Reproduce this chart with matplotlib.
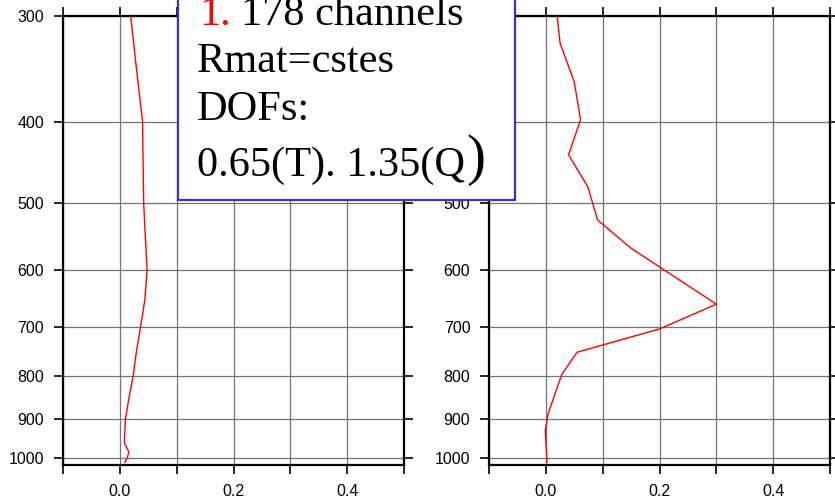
import matplotlib
matplotlib.use('Agg')
import matplotlib.pyplot as plt
from matplotlib.patches import Rectangle
from matplotlib.ticker import NullLocator

plt.rcParams['font.family'] = ['Liberation Sans', 'DejaVu Sans']

# averaging kernel profiles (pressure in hPa)
p_left = [300, 350, 400, 450, 500, 550, 600, 650, 700, 750, 800, 850, 900, 950, 960, 985, 1000, 1013]
v_left = [0.019, 0.030, 0.040, 0.041, 0.042, 0.045, 0.048, 0.044, 0.0365, 0.029, 0.0235, 0.016, 0.010, 0.008, 0.008, 0.016, 0.013, 0.009]

p_right = [300, 323, 359, 398, 438, 478, 523, 565, 658, 704, 750, 797, 887, 929, 981, 1013]
v_right = [0.020, 0.025, 0.050, 0.061, 0.040, 0.074, 0.091, 0.150, 0.300, 0.200, 0.055, 0.028, 0.004, -0.001, 0.001, 0.002]

p_ticks = [300, 400, 500, 600, 700, 800, 900, 1000]
x_ticks = [-0.1, 0.0, 0.1, 0.2, 0.3, 0.4, 0.5]
x_labels = ['', '0.0', '', '0.2', '', '0.4', '']

W, H = 835, 497
fig = plt.figure(figsize=(W / 100, H / 100), dpi=100)


def px_axes(x0, y0, x1, y1):
    return fig.add_axes([x0 / W, 1 - y1 / H, (x1 - x0) / W, (y1 - y0) / H])


ax_l = px_axes(63, 16, 404, 465)
ax_r = px_axes(489, 16, 830, 465)

for ax, p, v in [(ax_l, p_left, v_left), (ax_r, p_right, v_right)]:
    ax.set_yscale('log')
    ax.set_ylim(1020, 300)
    ax.set_xlim(-0.1, 0.5)
    ax.set_yticks(p_ticks, labels=[str(t) for t in p_ticks])
    ax.yaxis.set_minor_locator(NullLocator())
    ax.set_xticks(x_ticks, labels=x_labels)
    ax.tick_params(direction='out', top=True, right=True, length=6.5,
                   width=1.2, labelsize=11.5, color='k')
    ax.tick_params(axis='y', pad=7)
    ax.tick_params(axis='x', pad=7)
    ax.grid(color='0.45', lw=0.9)
    ax.set_axisbelow(True)
    for s in ax.spines.values():
        s.set_linewidth(1.6)
    ax.plot(v, p, color='red', lw=1.0, zorder=3)

# annotation box over the top of both panels
box = Rectangle((178 / W, 1 - 200 / H), (515 - 178) / W, 210 / H,
                transform=fig.transFigure, facecolor='white',
                edgecolor='#3333cc', lw=1.6, zorder=10)
fig.add_artist(box)

serif = dict(family='Liberation Serif', fontsize=30.5, va='baseline', zorder=11)
fig.text(199 / W, 1 - 25 / H, '1.', color='red', **serif)
fig.text(241 / W, 1 - 25 / H, '178 channels', color='k', **serif)
fig.text(197 / W, 1 - 72 / H, 'Rmat=cstes', color='k', **serif)
fig.text(197 / W, 1 - 120 / H, 'DOFs:', color='k', **serif)
last = fig.text(197 / W, 1 - 176 / H, '0.65(T). 1.35(Q', color='k', **serif)

# the closing bracket is set in a larger size right after the Q
fig.canvas.draw()
x_end = last.get_window_extent().x1
fig.text((x_end + 1) / W, 1 - 174 / H, ')', color='k', family='Liberation Serif',
         fontsize=41, va='baseline', zorder=11)

fig.savefig('out.png', dpi=100)
